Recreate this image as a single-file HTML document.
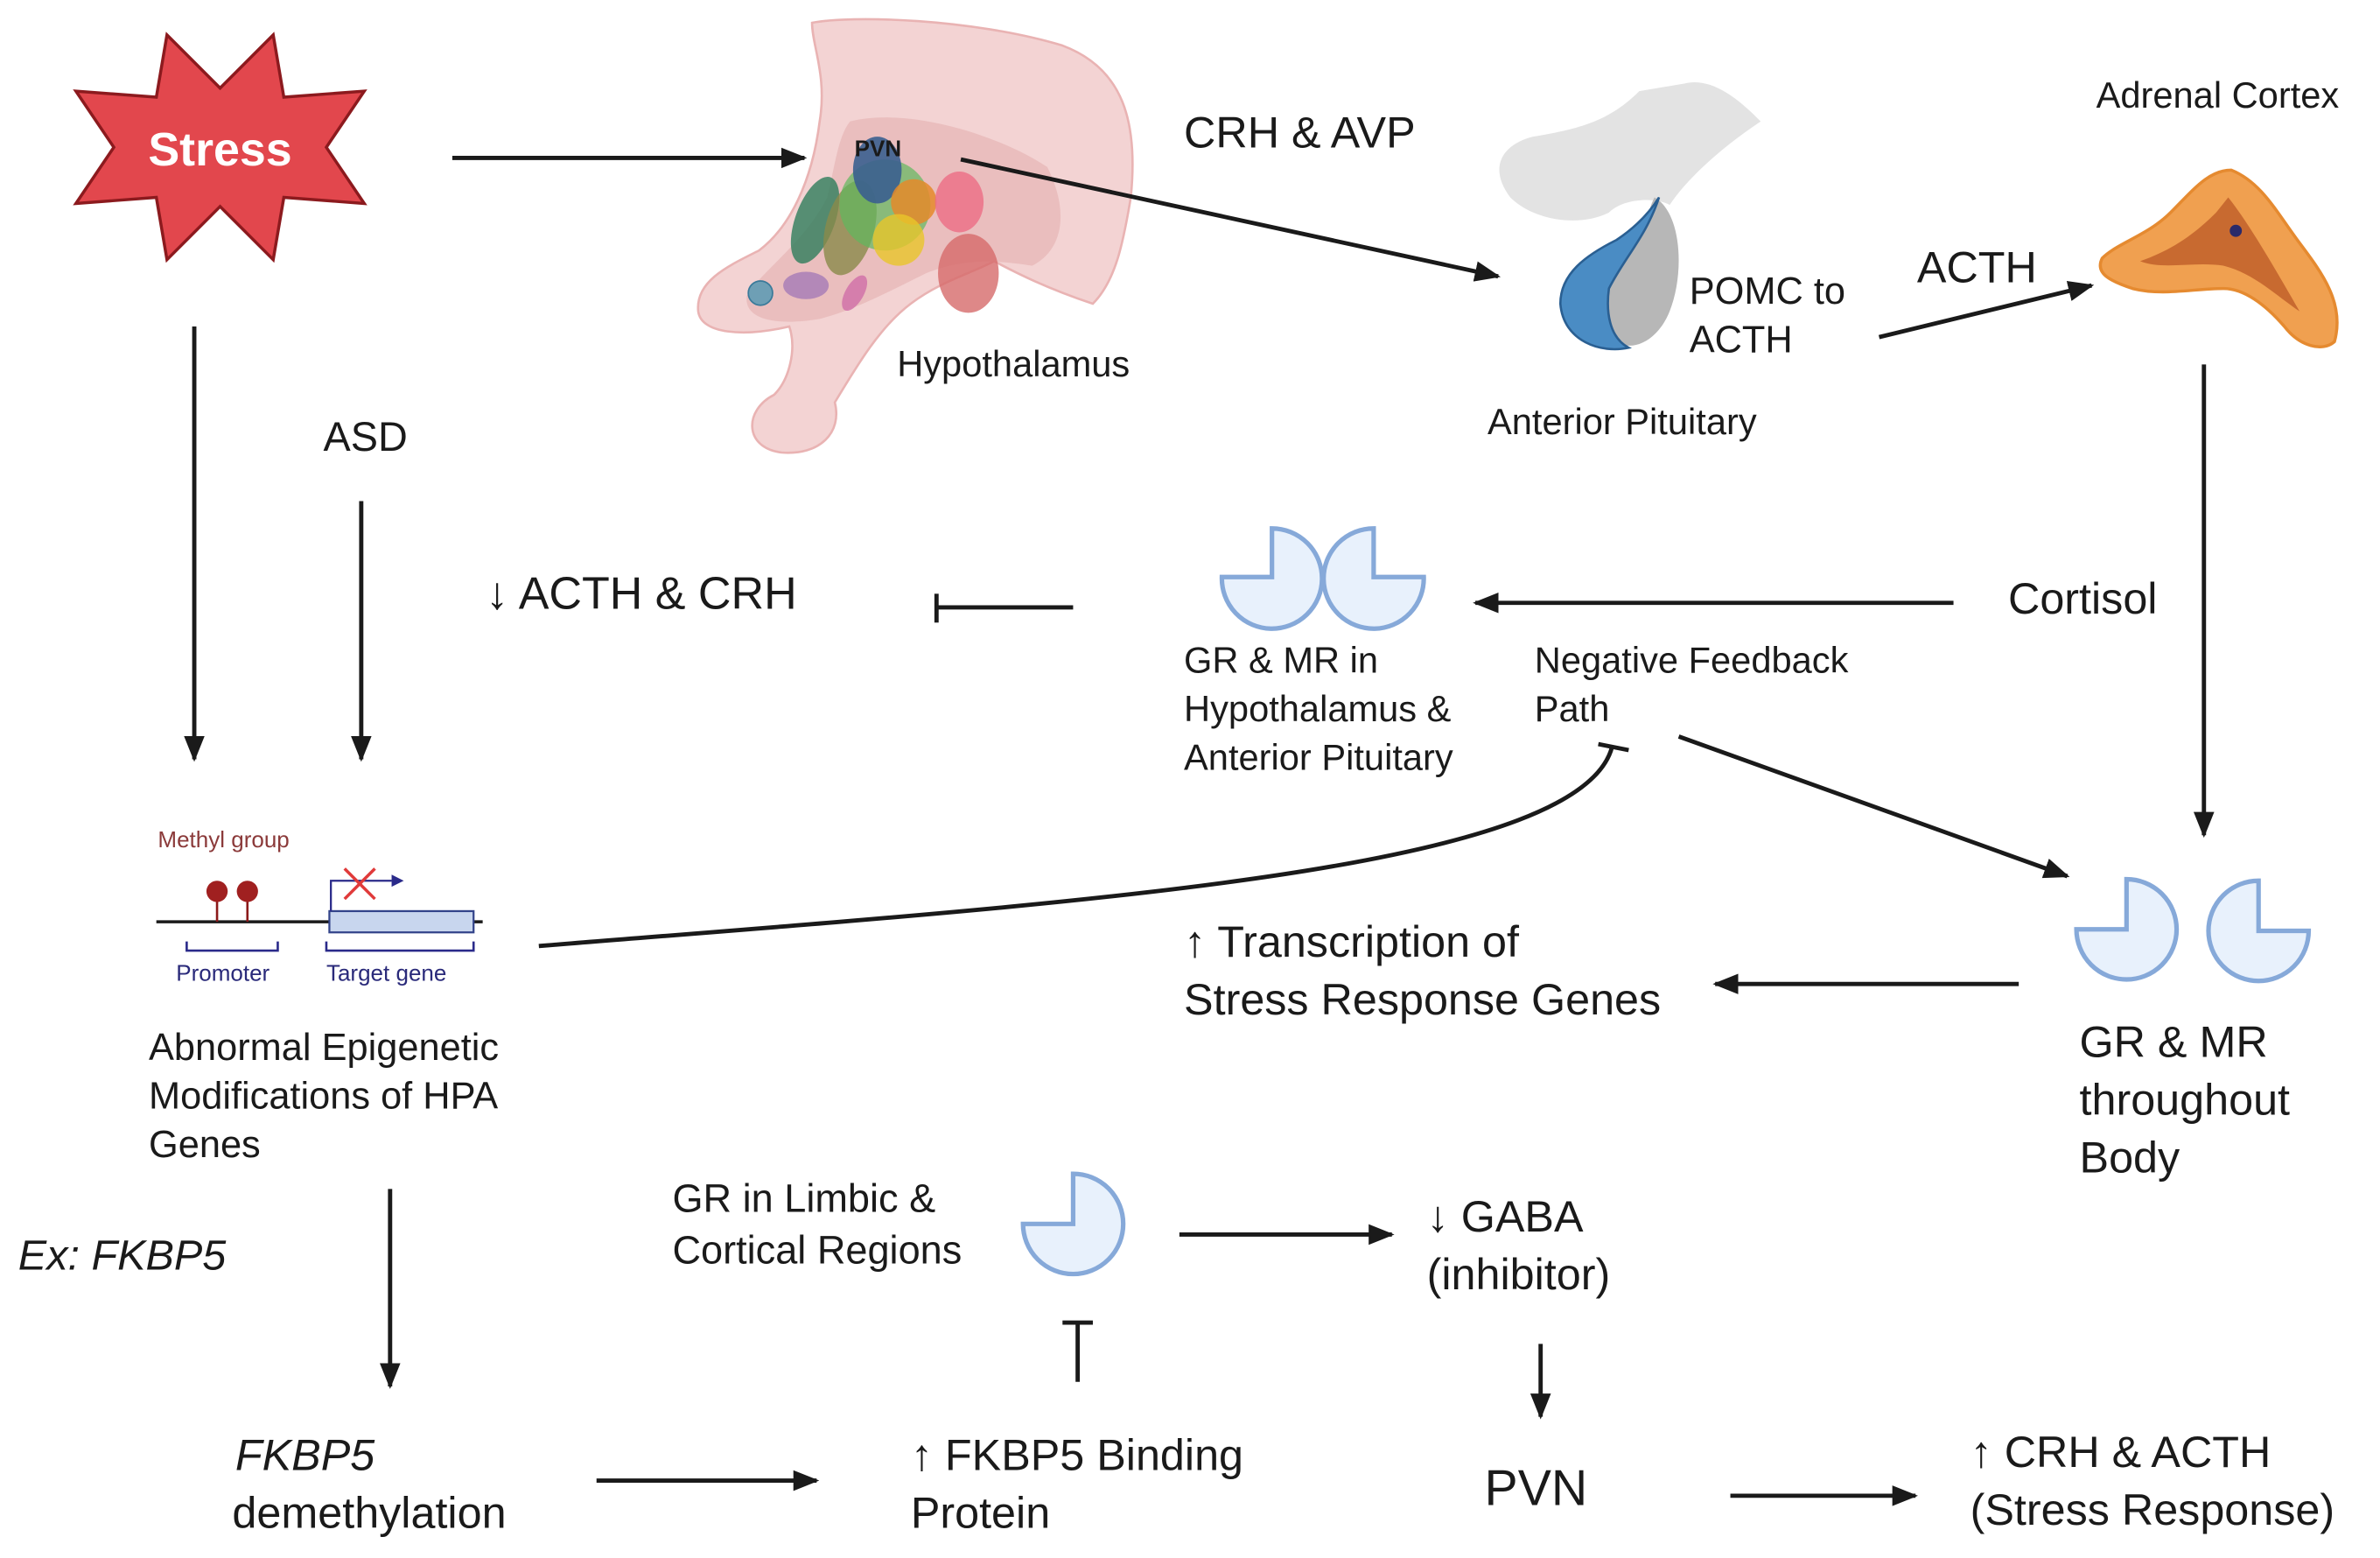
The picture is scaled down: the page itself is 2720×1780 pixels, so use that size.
<!DOCTYPE html>
<html><head><meta charset="utf-8"><style>
html,body{margin:0;padding:0;background:#fff;}
svg{display:block;}
text{font-family:"Liberation Sans",sans-serif;fill:#1a1a1a;}
</style></head><body>
<svg width="2720" height="1780" viewBox="0 0 1568 1026" preserveAspectRatio="none" xmlns="http://www.w3.org/2000/svg">
<defs>
<marker id="ah" viewBox="0 0 10 10" refX="9" refY="5" markerWidth="5" markerHeight="5" orient="auto" markerUnits="userSpaceOnUse">
<path d="M0,0 L10,5 L0,10 Z" fill="#1a1a1a"/></marker>
<marker id="a" viewBox="0 0 10 10" refX="9" refY="5" markerWidth="17" markerHeight="17" orient="auto" markerUnits="userSpaceOnUse">
<path d="M0,1 L10,5 L0,9 Z" fill="#1a1a1a"/></marker>
</defs>
<g stroke="#1a1a1a" stroke-width="2.6" fill="none">
<!-- star -->
<polygon points="110,23 145,58 180,23 187,64 240,60 215,97 240,134 187,130 180,171 145,136 110,171 103,130 50,134 75,97 50,60 103,64" fill="#e2474d" stroke="#8c1a1e" stroke-width="2"/>
</g>
<text x="145" y="109" text-anchor="middle" font-size="31" font-weight="bold" style="fill:#fff">Stress</text>

<!-- hypothalamus illustration -->
<g>
<path d="M535,15 C560,10 640,12 700,30 C740,45 750,80 745,130 C740,160 735,185 720,200 C690,190 670,180 655,172 C640,180 620,185 600,200 C580,215 565,240 550,265 C555,285 540,300 515,298 C490,295 490,270 510,260 C520,250 525,230 520,215 C490,222 462,220 460,205 C458,185 480,175 500,165 C520,150 535,120 540,80 C545,50 535,30 535,15 Z" fill="#f3d3d3" stroke="#e9b3b3" stroke-width="1.5"/>
<path d="M560,80 C600,70 660,90 690,110 C705,140 700,165 680,175 C650,170 630,172 610,180 C580,195 560,205 540,210 C510,215 490,210 492,195 C500,180 530,160 545,130 C550,110 552,90 560,80 Z" fill="#e7b9b9" opacity="0.8"/>
<ellipse cx="537" cy="145" rx="13" ry="30" transform="rotate(20 537 145)" fill="#2e7d5b" opacity="0.8"/>
<ellipse cx="560" cy="150" rx="16" ry="32" transform="rotate(15 560 150)" fill="#8a8a4a" opacity="0.8"/>
<circle cx="583" cy="135" r="30" fill="#5fb85c" opacity="0.7"/>
<ellipse cx="578" cy="112" rx="16" ry="22" fill="#3b5f8f" opacity="0.9"/>
<circle cx="602" cy="133" r="15" fill="#e58a2a" opacity="0.85"/>
<circle cx="592" cy="158" r="17" fill="#e8c52a" opacity="0.8"/>
<ellipse cx="632" cy="133" rx="16" ry="20" fill="#ec6d85" opacity="0.8"/>
<ellipse cx="638" cy="180" rx="20" ry="26" fill="#d66a6a" opacity="0.8"/>
<ellipse cx="531" cy="188" rx="15" ry="9" fill="#a57ab7" opacity="0.8"/>
<circle cx="501" cy="193" r="8" fill="#6e9fb5" stroke="#3a7a9a" stroke-width="1"/>
<ellipse cx="563" cy="193" rx="6" ry="13" transform="rotate(30 563 193)" fill="#cf6ea7" opacity="0.8"/>
</g>
<text x="563" y="103" font-size="15" font-weight="bold">PVN</text>
<text x="591" y="248" font-size="24">Hypothalamus</text>

<!-- pituitary -->
<g>
<path d="M1110,55 C1130,50 1150,70 1160,80 C1130,100 1110,120 1100,135 C1092,130 1070,130 1060,140 C1040,150 1010,145 995,130 C980,110 990,95 1010,90 C1040,85 1060,80 1080,60 Z" fill="#e3e3e3"/>
<path d="M1090,130 C1108,140 1110,180 1100,205 C1092,225 1075,232 1065,225 C1050,215 1058,185 1075,165 C1085,150 1085,140 1090,130 Z" fill="#b7b7b7"/>
<path d="M1093,130 C1085,155 1070,170 1060,190 C1058,205 1060,222 1073,229 C1055,233 1030,225 1028,200 C1028,180 1045,168 1065,158 C1080,148 1088,138 1093,130 Z" fill="#4a8cc4" stroke="#2a5f92" stroke-width="1.5"/>
</g>
<text x="1113" y="200" font-size="25">POMC to</text>
<text x="1113" y="232" font-size="25">ACTH</text>
<text x="980" y="286" font-size="24">Anterior Pituitary</text>
<text x="780" y="97" font-size="29">CRH &amp; AVP</text>
<text x="1263" y="186" font-size="29">ACTH</text>
<text x="1381" y="71" font-size="24">Adrenal Cortex</text>

<!-- adrenal -->
<path d="M1470,112 C1490,120 1500,140 1515,160 C1530,180 1545,200 1538,225 C1530,232 1515,228 1505,215 C1492,200 1478,190 1465,190 C1445,190 1425,195 1405,190 C1390,185 1380,180 1385,170 C1395,160 1415,155 1430,140 C1445,125 1455,112 1470,112 Z" fill="#f0a050" stroke="#e58a30" stroke-width="2"/>
<path d="M1468,130 C1480,145 1495,170 1515,205 C1500,195 1485,180 1465,175 C1445,172 1425,178 1410,172 C1430,165 1445,155 1460,140 Z" fill="#c86a30"/>
<circle cx="1473" cy="152" r="4" fill="#2a2a6a"/>

<g stroke="#1a1a1a" stroke-width="2.8" fill="none">
<line x1="298" y1="104" x2="530" y2="104" marker-end="url(#a)"/>
<line x1="633" y1="105" x2="987" y2="182" marker-end="url(#a)"/>
<line x1="1238" y1="222" x2="1378" y2="188" marker-end="url(#a)"/>
<line x1="1452" y1="240" x2="1452" y2="550" marker-end="url(#a)"/>
<line x1="1287" y1="397" x2="972" y2="397" marker-end="url(#a)"/>
<line x1="707" y1="400" x2="617" y2="400"/>
<line x1="617" y1="391" x2="617" y2="410"/>
<line x1="128" y1="215" x2="128" y2="500" marker-end="url(#a)"/>
<line x1="238" y1="330" x2="238" y2="500" marker-end="url(#a)"/>
<path d="M355,623 C700,595 1040,575 1062,492"/>
<line x1="1053" y1="490" x2="1073" y2="494"/>
<line x1="1106" y1="485" x2="1362" y2="577" marker-end="url(#a)"/>
<line x1="1330" y1="648" x2="1130" y2="648" marker-end="url(#a)"/>
<line x1="257" y1="783" x2="257" y2="913" marker-end="url(#a)"/>
<line x1="777" y1="813" x2="917" y2="813" marker-end="url(#a)"/>
<line x1="1015" y1="885" x2="1015" y2="933" marker-end="url(#a)"/>
<line x1="710" y1="910" x2="710" y2="871"/>
<line x1="700" y1="871" x2="720" y2="871"/>
<line x1="393" y1="975" x2="538" y2="975" marker-end="url(#a)"/>
<line x1="1140" y1="985" x2="1262" y2="985" marker-end="url(#a)"/>
</g>

<!-- GR shapes -->
<g fill="#e8f1fc" stroke="#86a9d9" stroke-width="3">
<path d="M838,348 L838,380 L805,380 A33,33 0 1 0 838,348 Z"/>
<path d="M905,348 L905,380 L938,380 A33,33 0 1 1 905,348 Z"/>
<path d="M1401,579 L1401,612 L1368,612 A33,33 0 1 0 1401,579 Z"/>
<path d="M1488,580 L1488,613 L1521,613 A33,33 0 1 1 1488,580 Z"/>
<path d="M707,773 L707,806 L674,806 A33,33 0 1 0 707,773 Z"/>
</g>

<text x="320" y="401" font-size="30">↓ ACTH  &amp; CRH</text>
<text x="213" y="297" font-size="27">ASD</text>
<text x="1323" y="404" font-size="29">Cortisol</text>
<text x="780" y="443" font-size="24">GR &amp; MR in</text>
<text x="780" y="475" font-size="24">Hypothalamus &amp;</text>
<text x="780" y="507" font-size="24">Anterior Pituitary</text>
<text x="1011" y="443" font-size="24">Negative Feedback</text>
<text x="1011" y="475" font-size="24">Path</text>

<!-- methylation -->
<text x="104" y="558" font-size="15" style="fill:#8b3a3a">Methyl group</text>
<line x1="103" y1="607" x2="318" y2="607" stroke="#1a1a1a" stroke-width="2"/>
<line x1="143" y1="589" x2="143" y2="607" stroke="#8b1a1a" stroke-width="1.5"/>
<line x1="163" y1="589" x2="163" y2="607" stroke="#8b1a1a" stroke-width="1.5"/>
<circle cx="143" cy="587" r="7" fill="#a02020"/>
<circle cx="163" cy="587" r="7" fill="#a02020"/>
<rect x="217" y="600" width="95" height="14" fill="#c8d6ee" stroke="#33448a" stroke-width="1.3"/>
<path d="M218,600 L218,580 L258,580" stroke="#2a2a8a" stroke-width="1.3" fill="none"/>
<path d="M258,576 L266,580 L258,584 Z" fill="#2a2a8a"/>
<path d="M227,572 L247,592 M247,572 L227,592" stroke="#e03a3a" stroke-width="2"/>
<path d="M123,620 L123,626 L183,626 L183,620 M215,620 L215,626 L312,626 L312,620" stroke="#2a2a8a" stroke-width="1.5" fill="none"/>
<text x="116" y="646" font-size="15" style="fill:#2a2a7a">Promoter</text>
<text x="215" y="646" font-size="15" style="fill:#2a2a7a">Target gene</text>

<text x="98" y="698" font-size="25">Abnormal Epigenetic</text>
<text x="98" y="730" font-size="25">Modifications of HPA</text>
<text x="98" y="762" font-size="25">Genes</text>
<text x="12" y="836" font-size="28" font-style="italic">Ex: FKBP5</text>

<text x="780" y="630" font-size="29">↑ Transcription of</text>
<text x="780" y="668" font-size="29">Stress Response Genes</text>
<text x="1370" y="696" font-size="29">GR &amp; MR</text>
<text x="1370" y="734" font-size="29">throughout</text>
<text x="1370" y="772" font-size="29">Body</text>

<text x="443" y="798" font-size="26">GR in Limbic &amp;</text>
<text x="443" y="832" font-size="26">Cortical Regions</text>
<text x="940" y="811" font-size="29">↓ GABA</text>
<text x="940" y="849" font-size="29">(inhibitor)</text>

<text x="155" y="968" font-size="29" font-style="italic">FKBP5</text>
<text x="153" y="1006" font-size="29">demethylation</text>
<text x="600" y="968" font-size="29">↑ FKBP5 Binding</text>
<text x="600" y="1006" font-size="29">Protein</text>
<text x="978" y="991" font-size="33">PVN</text>
<text x="1298" y="966" font-size="29">↑ CRH &amp; ACTH</text>
<text x="1298" y="1004" font-size="29">(Stress Response)</text>
</svg>
</body></html>
